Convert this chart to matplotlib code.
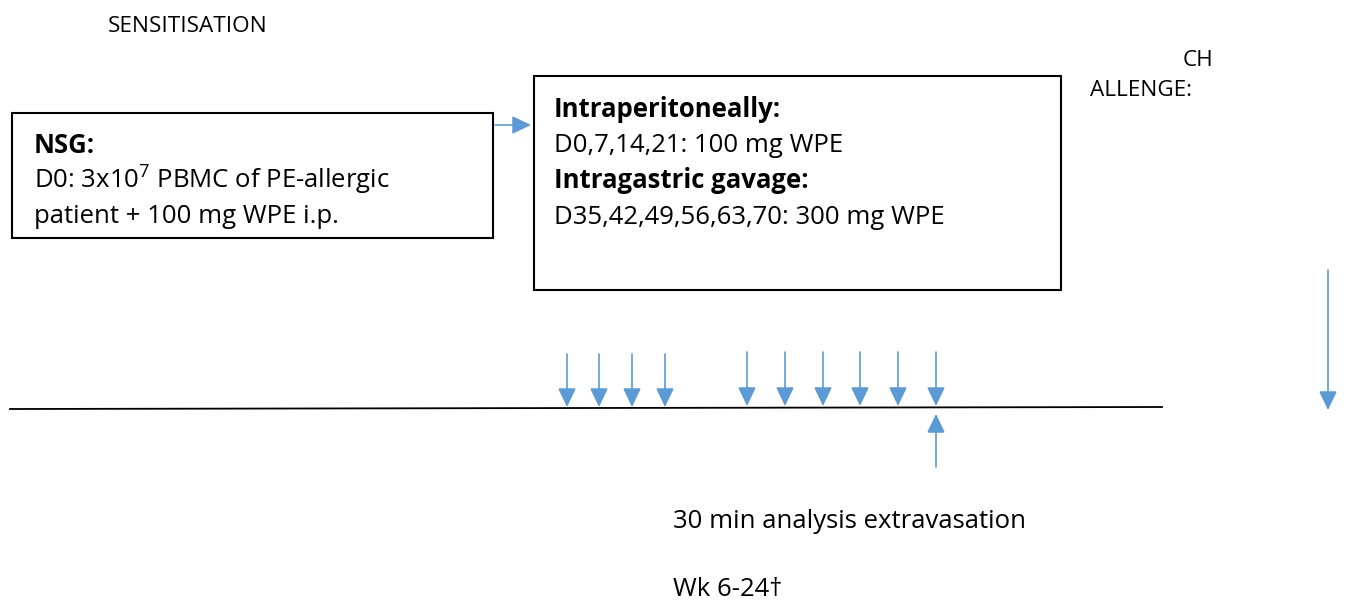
import matplotlib.pyplot as plt
from matplotlib.patches import Rectangle

# ========== 데이터 ==========
ip_days_x = [567, 599, 632, 665]                      # i.p. 주사 화살표 위치
ig_days_x = [747, 785, 823, 860, 898, 936]            # gavage 화살표 위치
analysis_x = 936                                      # 분석 시점 (위쪽 화살표)
challenge_x = 1328                                    # challenge 화살표

box1_lines = ["NSG:", "D0: 3x10$^{\\mathregular{7}}$ PBMC of PE-allergic",
              "patient + 100 mg WPE i.p."]
box1_bold = [True, False, False]
box2_lines = ["Intraperitoneally:", "D0,7,14,21: 100 mg WPE",
              "Intragastric gavage:", "D35,42,49,56,63,70: 300 mg WPE"]
box2_bold = [True, False, True, False]
# ===================================================

BLUE = "#5B9BD5"
FONT = "Open Sans"
plt.rcParams['font.family'] = [FONT, 'DejaVu Sans']
plt.rcParams['mathtext.fontset'] = 'custom'
plt.rcParams['mathtext.rm'] = FONT

BIG = 18.5
SMALL = 16.2

fig = plt.figure(figsize=(13.47, 6), dpi=100)
ax = fig.add_axes([0, 0, 1, 1])
ax.set_xlim(0, 1347)
ax.set_ylim(600, 0)
ax.axis('off')


def arrow(x0, y0, x1, y1):
    ax.annotate('', xy=(x1, y1), xytext=(x0, y0),
                arrowprops=dict(arrowstyle='-|>,head_length=1.15,head_width=0.55',
                                color=BLUE, lw=1.2, shrinkA=0, shrinkB=0))


# 박스
ax.add_patch(Rectangle((12, 113), 481, 125, fill=False, ec='black', lw=1.5))
ax.add_patch(Rectangle((534, 76), 527, 214, fill=False, ec='black', lw=1.5))

for i, (s, b) in enumerate(zip(box1_lines, box1_bold)):
    ax.text(34, 153 + i * 35, s, fontsize=BIG, fontweight='bold' if b else 'normal',
            va='baseline', ha='left')
for i, (s, b) in enumerate(zip(box2_lines, box2_bold)):
    ax.text(554, 117 + i * 35.5, s, fontsize=BIG, fontweight='bold' if b else 'normal',
            va='baseline', ha='left')

ax.text(108, 27, "SENSITISATION", fontsize=SMALL, va='center', ha='left')
ax.text(1213, 60, "CH", fontsize=SMALL, va='center', ha='right')
ax.text(1090, 91, "ALLENGE:", fontsize=SMALL, va='center', ha='left')
ax.text(673, 521, "30 min analysis extravasation", fontsize=BIG, va='center', ha='left')
ax.text(673, 590, "Wk 6-24\u2020", fontsize=BIG, va='center', ha='left')

# 타임라인
ax.plot([10, 1162], [409, 407], color='black', lw=1.3)

arrow(495, 125, 531, 125)
for x in ip_days_x:
    arrow(x, 354, x, 407)
for x in ig_days_x:
    arrow(x, 352, x, 406)
arrow(analysis_x, 467, analysis_x, 414)
arrow(challenge_x, 270, challenge_x, 410)

fig.savefig("out.png", dpi=100)
